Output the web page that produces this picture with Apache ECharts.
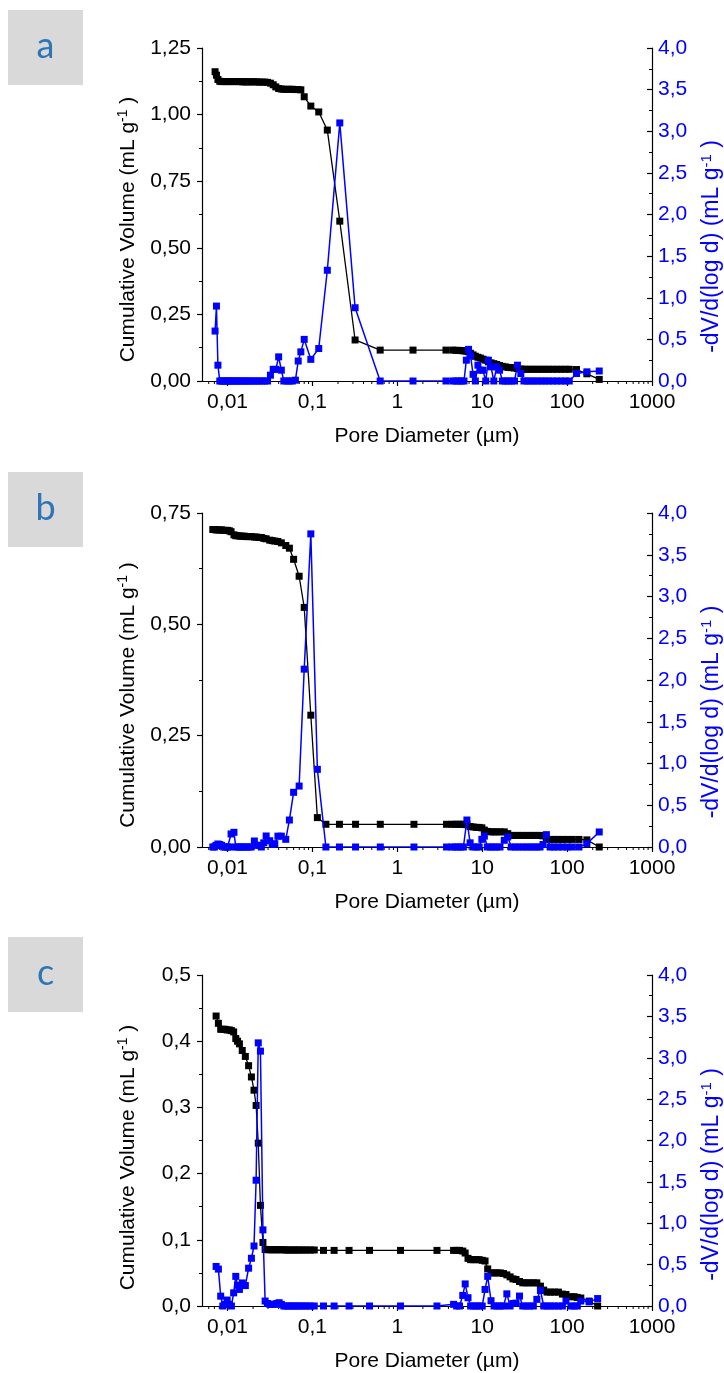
<!DOCTYPE html>
<html>
<head>
<meta charset="utf-8">
<script src="https://cdn.jsdelivr.net/npm/echarts@6/dist/echarts.min.js"></script>
<style>
html,body{margin:0;padding:0;background:#fff;}
#chart{width:724px;height:1373px;}
</style>
</head>
<body>
<div id="chart"></div>
<script>
// ---------- DATA ----------
const panelLetters = ['a', 'b', 'c'];
const xTickValues = [0.01, 0.1, 1, 10, 100, 1000];
const xMinorValues = [0.006,0.007,0.008,0.009,0.02,0.03,0.04,0.05,0.06,0.07,0.08,0.09,0.2,0.3,0.4,0.5,0.6,0.7,0.8,0.9,2,3,4,5,6,7,8,9,20,30,40,50,60,70,80,90,200,300,400,500,600,700,800,900];

// Panel a
const aDiam = [0.00713,0.0074,0.0077,0.0081,0.0085,0.0089,0.0093,0.0098,0.0103,0.0108,0.0114,0.012,0.0127,0.0134,0.0142,0.015,0.0159,0.0169,0.018,0.0192,0.0205,0.022,0.0236,0.0254,0.0274,0.0296,0.032,0.0345,0.037,0.040,0.043,0.046,0.050,0.054,0.058,0.063,0.068,0.073,0.080,0.0957,0.1186,0.1497,0.210,0.318,0.628,1.53,3.74,4.5,4.9,5.3,5.7,6.1,6.5,6.9,7.3,7.8,8.3,8.9,9.5,10.2,11.0,11.8,12.7,13.7,14.8,16.0,17.3,18.7,20.2,22,24,26,28.5,31,34,37,41,45,50,55,61,68,76,85,95,106,129,171,239];
const aCum = [1.161,1.148,1.132,1.125,1.124,1.124,1.124,1.124,1.124,1.124,1.124,1.124,1.124,1.124,1.124,1.123,1.123,1.123,1.123,1.123,1.123,1.123,1.122,1.122,1.122,1.121,1.118,1.112,1.104,1.098,1.096,1.095,1.095,1.095,1.095,1.094,1.094,1.093,1.067,1.032,1.010,0.942,0.600,0.154,0.116,0.116,0.116,0.116,0.115,0.115,0.114,0.113,0.112,0.110,0.104,0.098,0.093,0.089,0.086,0.082,0.078,0.072,0.068,0.065,0.062,0.058,0.055,0.053,0.051,0.050,0.049,0.047,0.045,0.044,0.044,0.044,0.044,0.044,0.044,0.044,0.044,0.044,0.044,0.044,0.044,0.044,0.043,0.027,0.006];
const aDiff = [0.60,0.90,0.19,0,0,0,0,0,0,0,0,0,0,0,0,0,0,0,0,0,0,0,0,0,0,0,0.07,0.14,0.14,0.29,0.13,0,0,0,0,0.01,0.24,0.35,0.50,0.26,0.39,1.33,3.10,0.88,0,0,0,0,0,0,0,0,0.25,0.38,0.30,0.08,0,0.19,0.13,0.13,0,0.25,0.17,0,0.17,0.13,0,0,0,0,0,0.19,0.09,0,0,0,0,0,0,0,0,0,0,0,0,0,0.09,0.11,0.12];

// Panel b
const bDiam = [0.0067,0.0070,0.0073,0.0077,0.0081,0.0085,0.0090,0.0095,0.0100,0.0105,0.0110,0.0119,0.0125,0.0132,0.0140,0.0148,0.0157,0.0167,0.0178,0.0190,0.0207,0.0220,0.0235,0.0250,0.0267,0.0285,0.0314,0.0336,0.036,0.0392,0.043,0.0485,0.0535,0.060,0.0697,0.080,0.0957,0.1143,0.144,0.208,0.322,0.63,1.57,3.8,4.4,4.8,5.2,5.6,6.0,6.6,7.2,7.8,8.5,9.2,9.9,10.6,11.5,12.5,13.6,14.8,16.2,18.2,20,22,24.5,27,30,33,36.5,40,44,48,52,57,63,70,78,88,100,115,138,171,239];
const bCum = [0.713,0.713,0.712,0.712,0.712,0.712,0.711,0.711,0.711,0.710,0.708,0.701,0.699,0.699,0.698,0.698,0.698,0.697,0.697,0.697,0.696,0.696,0.695,0.695,0.693,0.692,0.689,0.688,0.687,0.686,0.683,0.677,0.671,0.646,0.608,0.538,0.296,0.066,0.051,0.051,0.051,0.051,0.051,0.051,0.051,0.051,0.051,0.051,0.051,0.050,0.046,0.045,0.044,0.044,0.043,0.038,0.035,0.034,0.034,0.034,0.034,0.034,0.030,0.026,0.026,0.026,0.026,0.026,0.026,0.026,0.026,0.026,0.025,0.018,0.017,0.017,0.017,0.017,0.017,0.017,0.017,0.016,0.0];
const bDiff = [0,0,0.02,0.036,0.03,0.02,0,0,0,0,0.156,0.176,0,0,0,0,0,0,0,0,0.072,0.02,0.02,0,0.05,0.132,0.075,0.03,0.04,0.13,0.13,0.092,0.323,0.655,0.73,2.13,3.75,0.93,0,0,0,0,0,0,0,0,0,0,0,0.323,0.05,0,0,0,0.092,0.13,0,0,0,0,0,0.08,0.12,0,0,0,0,0,0,0,0,0,0.03,0.148,0,0,0,0,0,0,0,0.04,0.18];

// Panel c
const cDiam = [0.00733,0.0078,0.0083,0.0088,0.0093,0.0099,0.0105,0.0111,0.0118,0.0125,0.0131,0.0138,0.0149,0.0162,0.0177,0.0191,0.0205,0.0217,0.0230,0.0244,0.0261,0.0277,0.0295,0.0315,0.0335,0.0357,0.038,0.0405,0.043,0.046,0.049,0.052,0.056,0.060,0.064,0.069,0.074,0.080,0.087,0.095,0.105,0.135,0.18,0.27,0.47,1.09,2.93,4.6,5.0,5.4,5.9,6.3,6.8,7.3,7.9,8.5,9.2,10,10.8,11.6,12.7,13.8,15,16.3,17.8,19.5,21.3,23,25,27.5,30,33,36,40,44,48.5,53,58,64,71,79,88,97,111,121,132,145,182,229];
const cCum = [0.438,0.427,0.418,0.418,0.418,0.417,0.417,0.416,0.414,0.404,0.400,0.396,0.386,0.377,0.363,0.346,0.326,0.303,0.246,0.152,0.096,0.0855,0.085,0.085,0.085,0.085,0.085,0.085,0.085,0.085,0.0846,0.0846,0.0846,0.0846,0.0846,0.0846,0.0846,0.0846,0.0846,0.0846,0.0846,0.084,0.084,0.084,0.084,0.084,0.084,0.084,0.084,0.084,0.083,0.080,0.072,0.070,0.070,0.070,0.070,0.069,0.068,0.056,0.050,0.050,0.050,0.050,0.049,0.047,0.044,0.041,0.040,0.037,0.035,0.035,0.035,0.035,0.035,0.030,0.024,0.021,0.021,0.021,0.021,0.018,0.0174,0.014,0.014,0.013,0.012,0.0074,0.0];
const cDiff = [0.478,0.446,0.119,0,0.02,0.072,0.02,0,0.159,0.358,0.25,0.2,0.279,0.247,0.457,0.577,0.725,1.52,3.18,3.08,0.92,0.06,0.03,0.02,0.02,0.02,0.03,0.04,0.02,0,0,0,0,0,0,0,0,0,0,0,0,0,0,0,0,0,0,0.02,0,0,0.128,0.267,0.1,0,0,0,0,0,0.2,0.358,0.064,0,0,0,0,0.147,0,0.03,0.035,0.12,0,0,0,0,0.08,0.187,0,0,0,0,0,0,0.06,0,0,0,0.06,0.05,0.09];

const leftMax = [1.25, 0.75, 0.5];
const leftInterval = [0.25, 0.25, 0.1];
const leftDecimals = [2, 2, 1];
const rightMax = 4;
const rightInterval = 0.5;

const diams = [aDiam, bDiam, cDiam];
const cums = [aCum, bCum, cCum];
const diffs = [aDiff, bDiff, cDiff];

// ---------- LAYOUT ----------
const gridTops = [48, 513, 975];
const gridHeights = [333, 334, 335];
const gridLeft = 202, gridRight = 72;
const boxTops = [10, 472, 937];
const FONT = '"Liberation Sans", Arial, sans-serif';
const BLUE = '#0000ff';
const FS = 21;

const comma = (s) => String(s).replace('.', ',');

const grids = [], xAxes = [], yAxes = [], series = [], graphics = [];
for (let i = 0; i < 3; i++) {
  grids.push({ left: gridLeft, right: gridRight, top: gridTops[i], height: gridHeights[i], containLabel: false });
  xAxes.push({
    type: 'log', logBase: 10, gridIndex: i, min: 0.005, max: 1000, position: 'bottom',
    axisLine: { show: true, lineStyle: { color: '#000', width: 1.2 } },
    axisTick: { show: true, length: 5, lineStyle: { color: '#000', width: 1.2 }, customValues: xTickValues },
    axisLabel: {
      show: true, color: '#000', fontSize: FS, fontFamily: FONT, margin: 11,
      customValues: xTickValues,
      formatter: (v) => {
        const l = Math.log10(v);
        if (Math.abs(l - Math.round(l)) > 1e-6) return '';
        return comma(Number(v.toPrecision(6)));
      }
    },
    splitLine: { show: false },
    name: 'Pore Diameter (µm)', nameLocation: 'middle', nameGap: 45,
    nameTextStyle: { color: '#000', fontSize: FS, fontFamily: FONT }
  });
  const dec = leftDecimals[i];
  yAxes.push({
    type: 'value', gridIndex: i, position: 'left', min: 0, max: leftMax[i], interval: leftInterval[i],
    axisLine: { show: true, lineStyle: { color: '#000', width: 1.2 } },
    axisTick: { show: true, length: 5, lineStyle: { color: '#000', width: 1.2 } },
    minorTick: { show: true, splitNumber: 2, length: 3, lineStyle: { color: '#000', width: 1 } },
    axisLabel: { color: '#000', fontSize: FS, fontFamily: FONT, margin: 11, formatter: (v) => comma(v.toFixed(dec)) },
    splitLine: { show: false }
  });
  yAxes.push({
    type: 'value', gridIndex: i, position: 'right', min: 0, max: rightMax, interval: rightInterval,
    axisLine: { show: true, lineStyle: { color: '#000', width: 1.2 } },
    axisTick: { show: true, inside: true, length: 5, lineStyle: { color: '#000', width: 1.2 } },
    minorTick: { show: true, splitNumber: 2, length: 3, lineStyle: { color: '#000', width: 1 } },
    axisLabel: { color: BLUE, fontSize: FS, fontFamily: FONT, margin: 6, formatter: (v) => comma(v.toFixed(1)) },
    splitLine: { show: false }
  });
  series.push({
    type: 'line', xAxisIndex: i, yAxisIndex: i * 2,
    data: diams[i].map((d, k) => [d, cums[i][k]]),
    symbol: 'rect', symbolSize: 7, showSymbol: true,
    lineStyle: { color: '#000', width: 1.3 }, itemStyle: { color: '#000' },
    animation: false, z: 2
  });
  series.push({
    type: 'line', xAxisIndex: i, yAxisIndex: i * 2 + 1,
    data: diams[i].map((d, k) => [d, diffs[i][k]]),
    symbol: 'rect', symbolSize: 7, showSymbol: true,
    lineStyle: { color: BLUE, width: 1.5 }, itemStyle: { color: BLUE },
    animation: false, z: 3
  });

  graphics.push({ type: 'rect', left: 8, top: boxTops[i], shape: { width: 75, height: 75 }, style: { fill: '#d9d9d9' } });
  graphics.push({
    type: 'text', x: 45.5, y: boxTops[i] + 36,
    style: { text: panelLetters[i], fill: '#2e75b6', font: '36px Lato, "Open Sans", sans-serif', textAlign: 'center', textVerticalAlign: 'middle' }
  });
  const mid = gridTops[i] + gridHeights[i] / 2;
  graphics.push({
    type: 'text', x: 128, y: mid + 15, rotation: Math.PI / 2,
    style: {
      text: 'Cumulative Volume (mL g{sup|-1} )', fill: '#000', fontSize: FS, fontFamily: FONT,
      textAlign: 'center', textVerticalAlign: 'middle',
      rich: { sup: { fontSize: 14, fontFamily: FONT, fill: '#000', padding: [0, 0, 10, 0] } }
    }
  });
  graphics.push({
    type: 'text', x: 712, y: mid + 32, rotation: Math.PI / 2,
    style: {
      text: '-dV/d(log d) (mL g{sup|-1} )', fill: BLUE, fontSize: 23, fontFamily: FONT,
      textAlign: 'center', textVerticalAlign: 'middle',
      rich: { sup: { fontSize: 15, fontFamily: FONT, fill: BLUE, padding: [0, 0, 11, 0] } }
    }
  });
}

const chart = echarts.init(document.getElementById('chart'), null, { renderer: 'canvas' });
chart.setOption({
  animation: false,
  backgroundColor: '#fff',
  grid: grids, xAxis: xAxes, yAxis: yAxes, series: series, graphic: graphics
});

// log-scale minor ticks on x axes, positioned through the axis scale
const minorTicks = [];
for (let i = 0; i < 3; i++) {
  const y0 = chart.convertToPixel({ yAxisIndex: i * 2 }, 0);
  xMinorValues.forEach((v) => {
    const x = chart.convertToPixel({ xAxisIndex: i }, v);
    minorTicks.push({ type: 'line', shape: { x1: x, y1: y0, x2: x, y2: y0 + 3 }, style: { stroke: '#000', lineWidth: 1 }, silent: true });
  });
}
chart.setOption({ graphic: graphics.concat(minorTicks) });
</script>
</body>
</html>
